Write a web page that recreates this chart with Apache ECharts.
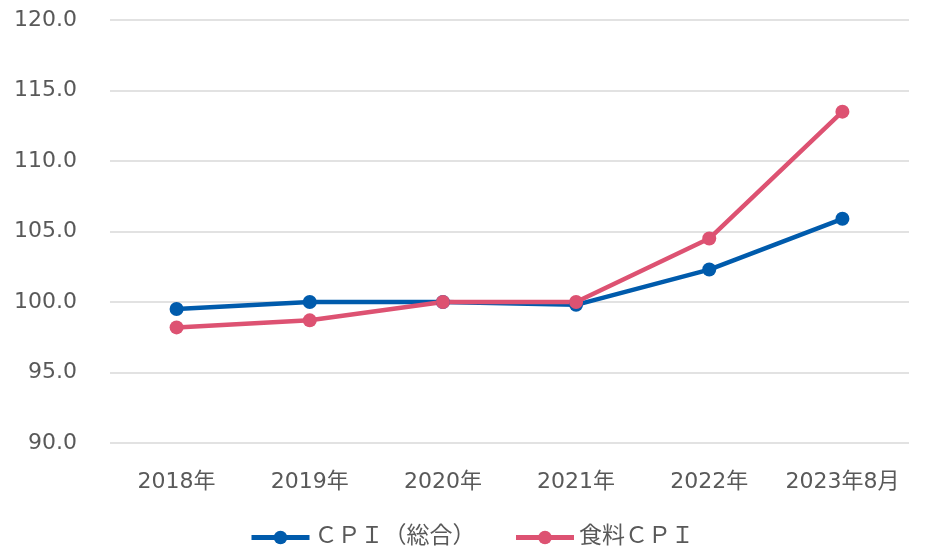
<!DOCTYPE html>
<html>
<head>
<meta charset="utf-8">
<script src="https://cdn.jsdelivr.net/npm/echarts@6/dist/echarts.min.js"></script>
<style>html,body{margin:0;padding:0;background:#fff}#c{width:943px;height:550px}</style>
</head>
<body>
<div id="c"></div>
<script>
const categories = ['2018年','2019年','2020年','2021年','2022年','2023年8月'];
const cpiTotal = [99.5, 100.0, 100.0, 99.8, 102.3, 105.9];
const cpiFood = [98.2, 98.7, 100.0, 100.0, 104.5, 113.5];
const seriesNames = ['ＣＰＩ（総合）', '食料ＣＰＩ'];

const font = "'DejaVu Sans', 'Noto Sans CJK JP', sans-serif";
const chart = echarts.init(document.getElementById('c'));
chart.setOption({
  animation: false,
  color: ['#005BAC', '#DD5272'],
  grid: {left: 110, right: 34, top: 20, bottom: 107},
  legend: {
    bottom: -4, left: 'center', itemWidth: 58, itemHeight: 17, itemGap: 38,
    lineStyle: {width: 5},
    textStyle: {fontSize: 23, color: '#595959', fontFamily: font},
    data: seriesNames
  },
  xAxis: {
    type: 'category', data: categories, boundaryGap: true,
    axisLine: {show: false}, axisTick: {show: false},
    axisLabel: {interval: 0, fontSize: 22, color: '#595959', fontFamily: font, margin: 28}
  },
  yAxis: {
    type: 'value', min: 90, max: 120, interval: 5,
    axisLabel: {fontSize: 22, color: '#595959', fontFamily: font, formatter: v => v.toFixed(1), margin: 33},
    splitLine: {lineStyle: {color: '#D9D9D9', width: 1.5}},
    axisLine: {show: false}, axisTick: {show: false}
  },
  series: [
    {name: seriesNames[0], type: 'line', data: cpiTotal, symbol: 'circle', symbolSize: 14, lineStyle: {width: 4.5}},
    {name: seriesNames[1], type: 'line', data: cpiFood, symbol: 'circle', symbolSize: 14, lineStyle: {width: 4.5}}
  ]
});
</script>
</body>
</html>
